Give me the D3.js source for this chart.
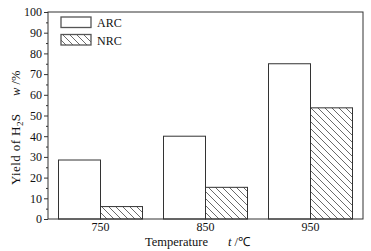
<!DOCTYPE html>
<html lang="en">
<head>
  <meta charset="utf-8">
  <title>Yield of H2S</title>
  <script type="text/javascript" src="https://d3js.org/d3.v7.min.js"></script>
  <style>
    body { margin: 0; background: #fff; }
    text { font-family: "Liberation Serif", "Times New Roman", serif; fill: #111; }
  </style>
</head>
<body>
  <script type="text/javascript">
    var temps = ["750", "850", "950"];
    var series = ["ARC", "NRC"];
    var arc = [28.5, 40, 75];
    var nrc = [6, 15.3, 53.7];
    var yTicks = [0, 10, 20, 30, 40, 50, 60, 70, 80, 90, 100];

    var w = 371, h = 251;
    var m = {left: 48, top: 12, right: 8, bottom: 32};

    var svg = d3.select("body").append("svg")
      .attr("width", w).attr("height", h);

    var defs = svg.append("defs");
    var pat = defs.append("pattern")
      .attr("id", "hatch")
      .attr("patternUnits", "userSpaceOnUse")
      .attr("width", 7).attr("height", 7);
    pat.append("path")
      .attr("d", "M-1,-1 L8,8 M-1,6 L1,8 M6,-1 L8,1")
      .attr("stroke", "#444").attr("stroke-width", 0.8);

    var x = d3.scaleBand().domain(temps).range([m.left, w - m.right]);
    var xs = d3.scaleBand().domain(series).range([0, x.bandwidth() * 0.8]);
    var y = d3.scaleLinear().domain([0, 100]).range([h - m.bottom, m.top]);

    // bars
    var g = svg.append("g");
    temps.forEach(function(t, i) {
      var off = x(t) + x.bandwidth() * 0.1;
      [arc[i], nrc[i]].forEach(function(v, j) {
        g.append("rect")
          .attr("x", off + xs(series[j]))
          .attr("y", y(v))
          .attr("width", xs.bandwidth())
          .attr("height", y(0) - y(v))
          .attr("fill", j == 0 ? "#fff" : "url(#hatch)")
          .attr("stroke", "#333").attr("stroke-width", 1);
      });
    });

    // frame
    svg.append("rect")
      .attr("x", m.left).attr("y", m.top)
      .attr("width", w - m.left - m.right)
      .attr("height", h - m.top - m.bottom)
      .attr("fill", "none").attr("stroke", "#333");

    // y axis
    var yAxis = svg.append("g")
      .attr("transform", "translate(" + m.left + ",0)")
      .call(d3.axisLeft(y).tickValues(yTicks).tickSize(4).tickPadding(2));
    yAxis.select(".domain").remove();
    yAxis.selectAll("text").style("font-size", "12px")
      .style("font-family", "Liberation Serif, serif").attr("fill", "#111");
    yAxis.selectAll("line").attr("stroke", "#333");
    svg.append("g")
      .attr("transform", "translate(" + m.left + ",0)")
      .call(d3.axisLeft(y).tickValues(d3.range(5, 100, 10)).tickSize(2).tickFormat(""))
      .call(function(s) { s.select(".domain").remove(); s.selectAll("line").attr("stroke", "#333"); });

    // x axis labels
    var xAxis = svg.append("g")
      .attr("transform", "translate(0," + (h - m.bottom) + ")")
      .call(d3.axisBottom(x).tickSize(0).tickPadding(3));
    xAxis.select(".domain").remove();
    xAxis.selectAll("text").style("font-size", "12px")
      .style("font-family", "Liberation Serif, serif").attr("fill", "#111");

    // axis titles
    svg.append("text")
      .attr("x", 145).attr("y", 246)
      .style("font-size", "12.5px").text("Temperature");
    var xt2 = svg.append("text")
      .attr("x", 228).attr("y", 246).style("font-size", "12.5px");
    xt2.append("tspan").style("font-style", "italic").text("t");
    xt2.append("tspan").text(" /\u2103");

    var yt = svg.append("text")
      .attr("transform", "translate(20,185) rotate(-90)")
      .style("font-size", "13px").style("letter-spacing", "0.4px");
    yt.append("tspan").text("Yield of H");
    yt.append("tspan").attr("dy", 3).style("font-size", "9px").text("2");
    yt.append("tspan").attr("dy", -3).text("S");
    var yt2 = svg.append("text")
      .attr("transform", "translate(20,96) rotate(-90)")
      .style("font-size", "12.5px");
    yt2.append("tspan").style("font-style", "italic").text("w");
    yt2.append("tspan").text(" /%");

    // legend
    var leg = svg.append("g");
    series.forEach(function(s, i) {
      leg.append("rect")
        .attr("x", 61).attr("y", 17 + i * 17.5)
        .attr("width", 30).attr("height", 10.5)
        .attr("fill", i == 0 ? "#fff" : "url(#hatch)")
        .attr("stroke", "#555").attr("stroke-width", 1.3);
      leg.append("text")
        .attr("x", 97).attr("y", 27 + i * 17.5)
        .style("font-size", "12px").text(s);
    });
  </script>
</body>
</html>
